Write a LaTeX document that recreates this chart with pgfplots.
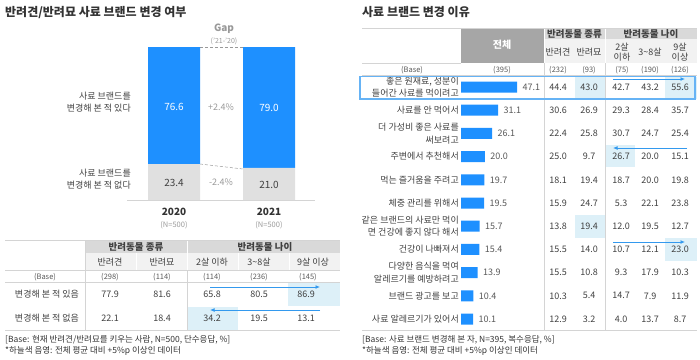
\documentclass[border=0pt]{standalone}
\usepackage{fontspec}
\setmainfont{Noto Sans CJK KR}
\usepackage{pgfplots}
\pgfplotsset{compat=1.18}
\usetikzlibrary{arrows.meta}
\definecolor{myblue}{HTML}{1E90FF}
\definecolor{lgray}{HTML}{E0E0E0}
\definecolor{hdrA}{HTML}{D9D9D9}
\definecolor{hdrB}{HTML}{F2F2F2}
\definecolor{hdrC}{HTML}{A6A6A6}
\definecolor{hl}{HTML}{DDF0F8}
\definecolor{txt}{HTML}{404040}
\definecolor{txtb}{HTML}{595959}
\definecolor{gapc}{HTML}{999999}
\definecolor{linec}{HTML}{D4D4D4}
\definecolor{arr}{HTML}{3399EE}
\definecolor{outl}{HTML}{66B3F5}
\definecolor{ttl}{HTML}{333333}
\begin{document}
\begin{tikzpicture}
\path[use as bounding box] (0pt,0pt) rectangle (700pt,-359pt);
\begin{scope}[x=1pt,y=-1pt, every node/.style={font=\fontsize{9}{12.5}\selectfont, text=txt, inner sep=0pt}]
% ---------- titles
\node[anchor=west, font=\fontsize{12}{14}\selectfont\bfseries, text=ttl] at (5,13) {반려견/반려묘 사료 브랜드 변경 여부};
\node[anchor=west, font=\fontsize{12}{14}\selectfont\bfseries, text=ttl] at (362,12) {사료 브랜드 변경 이유};
% ---------- left chart decorations
\draw[linec, line width=0.8pt] (127,200) -- (315,200);
\draw[gapc, densely dashed, line width=0.5pt] (200,47) -- (243,47);
\draw[gapc, densely dashed, line width=0.5pt] (200,164) -- (243,169);
\node[font=\fontsize{10}{12}\selectfont\bfseries, text=gapc] at (224,29) {Gap};
\node[font=\fontsize{7}{9}\selectfont, text=gapc] at (224,41) {('21-'20)};
\node[text=gapc] at (221,107) {+2.4\%};
\node[text=gapc] at (221,182) {-2.4\%};
\node[anchor=east, align=right] at (131,102) {사료 브랜드를\\변경해 본 적 있다};
\node[anchor=east, align=right] at (131,179) {사료 브랜드를\\변경해 본 적 없다};
\node[font=\fontsize{10}{12}\selectfont\bfseries, text=ttl] at (174,212) {2020};
\node[font=\fontsize{7.5}{9}\selectfont, text=gapc] at (174,225) {(N=500)};
\node[font=\fontsize{10}{12}\selectfont\bfseries, text=ttl] at (269,212) {2021};
\node[font=\fontsize{7.5}{9}\selectfont, text=gapc] at (269,225) {(N=500)};
% ---------- left table
\fill[hdrA] (85.5,240) rectangle (340,253);
\fill[hdrB] (85.5,253) rectangle (340,270);
\draw[white, line width=1pt] (187,240) -- (187,270);
\draw[white, line width=0.6pt] (136,253) -- (136,270) (238,253) -- (238,270) (289,253) -- (289,270);
\fill[hl] (288,282.5) rectangle (340,306);
\fill[hl] (187.5,306.5) rectangle (238,330);
\draw[linec, line width=0.5pt] (5,240) -- (340,240);
\draw[linec, line width=0.5pt] (5,270) -- (340,270);
\draw[linec, line width=0.4pt] (5,282) -- (340,282);
\draw[linec, line width=0.8pt] (5,330.5) -- (340,330.5);
\draw[linec, line width=0.5pt] (85,240) -- (85,330);
\draw[linec, line width=0.5pt] (187,270) -- (187,330);
\node[font=\fontsize{9.5}{12}\selectfont\bfseries] at (136,246.5) {반려동물 종류};
\node[font=\fontsize{9.5}{12}\selectfont\bfseries] at (265,246.5) {반려동물 나이};
\node at (110,262) {반려견};
\node at (162,262) {반려묘};
\node at (212,262) {2살 이하};
\node at (259,262) {3\textasciitilde8살};
\node at (313,262) {9살 이상};
\begin{scope}[every node/.append style={font=\fontsize{7.5}{9}\selectfont, text=txtb}]
\node at (45,277) {(Base)};
\node at (110,277) {(298)};
\node at (162,277) {(114)};
\node at (212,277) {(114)};
\node at (259,277) {(236)};
\node at (308,277) {(145)};
\end{scope}
\node at (47,294) {변경해 본 적 있음};
\node at (47,318) {변경해 본 적 없음};
\foreach \x/\a/\b in {110/77.9/22.1, 162/81.6/18.4, 212/65.8/34.2, 259/80.5/19.5, 306/86.9/13.1} {
  \node at (\x,294) {\a};
  \node at (\x,318) {\b};
}
\draw[arr, line width=0.9pt, -{Latex[length=4.5pt,width=4pt]}] (210,287) -- (320,287);
\draw[arr, line width=0.9pt, -{Latex[length=4.5pt,width=4pt]}] (320,310) -- (210,310);
\node[anchor=west, font=\fontsize{8.5}{10}\selectfont, text=ttl] at (5,339.5) {[Base: 현재 반려견/반려묘를 키우는 사람, N=500, 단수응답, \%]};
\node[anchor=west, font=\fontsize{8.5}{10}\selectfont, text=ttl] at (5,351) {*하늘색 음영: 전체 평균 대비 +5\%p 이상인 데이터};
% ---------- right table
\fill[hdrC] (461,28) rectangle (543.5,63);
\fill[hdrA] (544.5,28) rectangle (697,39);
\fill[hdrB] (544.5,39) rectangle (697,63);
\draw[white, line width=1pt] (605.5,28) -- (605.5,63);
\fill[hl] (575,76.5) rectangle (605,98.6);
\fill[hl] (665,76.5) rectangle (697,98.6);
\fill[hl] (605.5,145) rectangle (635,167);
\fill[hl] (575,215) rectangle (605,238);
\fill[hl] (665,238) rectangle (697,261);
\draw[linec, line width=0.5pt] (362,28) -- (697,28);
\draw[linec, line width=0.5pt] (362,63) -- (461,63);
\draw[linec, line width=0.4pt] (362,75.5) -- (697,75.5);
\draw[linec, line width=0.8pt] (362,330.5) -- (697,330.5);
\draw[linec, line width=0.5pt] (544,63) -- (544,330);
\draw[linec, line width=0.5pt] (605,63) -- (605,330);
\node[font=\fontsize{10}{12}\selectfont\bfseries, text=white] at (502,45) {전체};
\node[font=\fontsize{9.5}{12}\selectfont\bfseries] at (574.5,33.5) {반려동물 종류};
\node[font=\fontsize{9.5}{12}\selectfont\bfseries] at (651,33.5) {반려동물 나이};
\node at (558,52) {반려견};
\node at (589,52) {반려묘};
\node[align=center, font=\fontsize{9}{10}\selectfont] at (622,52) {2살\\이하};
\node at (650,52) {3\textasciitilde8살};
\node[align=center, font=\fontsize{9}{10}\selectfont] at (680,52) {9살\\이상};
\begin{scope}[every node/.append style={font=\fontsize{7.5}{9}\selectfont, text=txtb}]
\node at (412,70) {(Base)};
\node at (502,70) {(395)};
\node at (558,70) {(232)};
\node at (589,70) {(93)};
\node at (622,70) {(75)};
\node at (650,70) {(190)};
\node at (680,70) {(126)};
\end{scope}
\begin{scope}[every node/.append style={anchor=east, align=right}]
\node at (459,87) {좋은 원재료, 성분이\\들어간 사료를 먹이려고};
\node at (459,110.2) {사료를 안 먹어서};
\node at (459,133.4) {더 가성비 좋은 사료를\\써보려고};
\node at (459,156.6) {주변에서 추천해서};
\node at (459,179.8) {먹는 즐거움을 주려고};
\node at (459,203) {체중 관리를 위해서};
\node at (459,226.2) {같은 브랜드의 사료만 먹이\\면 건강에 좋지 않다 해서};
\node at (459,249.4) {건강이 나빠져서};
\node at (459,272.6) {다양한 음식을 먹여\\알레르기를 예방하려고};
\node at (459,295.8) {브랜드 광고를 보고};
\node at (459,319) {사료 알레르기가 있어서};
\end{scope}
\foreach \y/\a/\b/\c/\d/\e in {87/44.4/43.0/42.7/43.2/55.6, 110.2/30.6/26.9/29.3/28.4/35.7, 133.4/22.4/25.8/30.7/24.7/25.4, 156.6/25.0/9.7/26.7/20.0/15.1, 179.8/18.1/19.4/18.7/20.0/19.8, 203/15.9/24.7/5.3/22.1/23.8, 226.2/13.8/19.4/12.0/19.5/12.7, 249.4/15.5/14.0/10.7/12.1/23.0, 272.6/15.5/10.8/9.3/17.9/10.3, 295.8/10.3/5.4/14.7/7.9/11.9, 319/12.9/3.2/4.0/13.7/8.7} {
  \node at (558,\y) {\a};
  \node at (589,\y) {\b};
  \node at (621,\y) {\c};
  \node at (650,\y) {\d};
  \node at (680,\y) {\e};
}
\node[anchor=west, font=\fontsize{8.5}{10}\selectfont, text=ttl] at (362,340) {[Base: 사료 브랜드 변경해 본 자, N=395, 복수응답, \%]};
\node[anchor=west, font=\fontsize{8.5}{10}\selectfont, text=ttl] at (362,351) {*하늘색 음영: 전체 평균 대비 +5\%p 이상인 데이터};
\end{scope}
% ---------- left stacked bars
\begin{axis}[at={(127pt,-200pt)}, anchor=south west, scale only axis,
  width=188pt, height=153pt, xmin=-0.4947, xmax=1.4842, ymin=0, ymax=100,
  ybar stacked, bar width=52pt, hide axis, clip=false]
\addplot[fill=lgray, draw=none] coordinates {(0,23.4) (1,21.0)};
\addplot[fill=myblue, draw=none] coordinates {(0,76.6) (1,79.0)};
\end{axis}
% ---------- right horizontal bars
\begin{axis}[at={(461pt,-330.6pt)}, anchor=south west, scale only axis,
  width=119pt, height=255.2pt, xmin=0, xmax=100, ymin=0.5, ymax=11.5,
  y dir=reverse, xbar, bar width=11pt, hide axis, clip=false,
  nodes near coords,
  every node near coord/.append style={font=\fontsize{9}{10}\selectfont, text=txtb, xshift=2pt},
  /pgf/number format/.cd, fixed, fixed zerofill, precision=1, assume math mode=true]
\addplot[fill=myblue, draw=none] coordinates {(47.1,1) (31.1,2) (26.1,3) (20.0,4) (19.7,5) (19.5,6) (15.7,7) (15.4,8) (13.9,9) (10.4,10) (10.1,11)};
\end{axis}
% ---------- overlays
\begin{scope}[x=1pt,y=-1pt, every node/.style={inner sep=0pt}]
\node[font=\fontsize{10}{12}\selectfont, text=white] at (174,107) {76.6};
\node[font=\fontsize{10}{12}\selectfont, text=white] at (269,108) {79.0};
\node[font=\fontsize{10}{12}\selectfont, text=txt] at (174,183) {23.4};
\node[font=\fontsize{10}{12}\selectfont, text=txt] at (269,185) {21.0};
\draw[outl, line width=1.2pt] (360,76.5) rectangle (695,99);
\draw[arr, line width=0.9pt, -{Latex[length=4.5pt,width=4pt]}] (613,79) -- (685,79);
\draw[arr, line width=0.9pt, -{Latex[length=4.5pt,width=4pt]}] (687,148) -- (613,148);
\draw[arr, line width=0.9pt, -{Latex[length=4.5pt,width=4pt]}] (613,242) -- (685,242);
\end{scope}
\end{tikzpicture}
\end{document}
